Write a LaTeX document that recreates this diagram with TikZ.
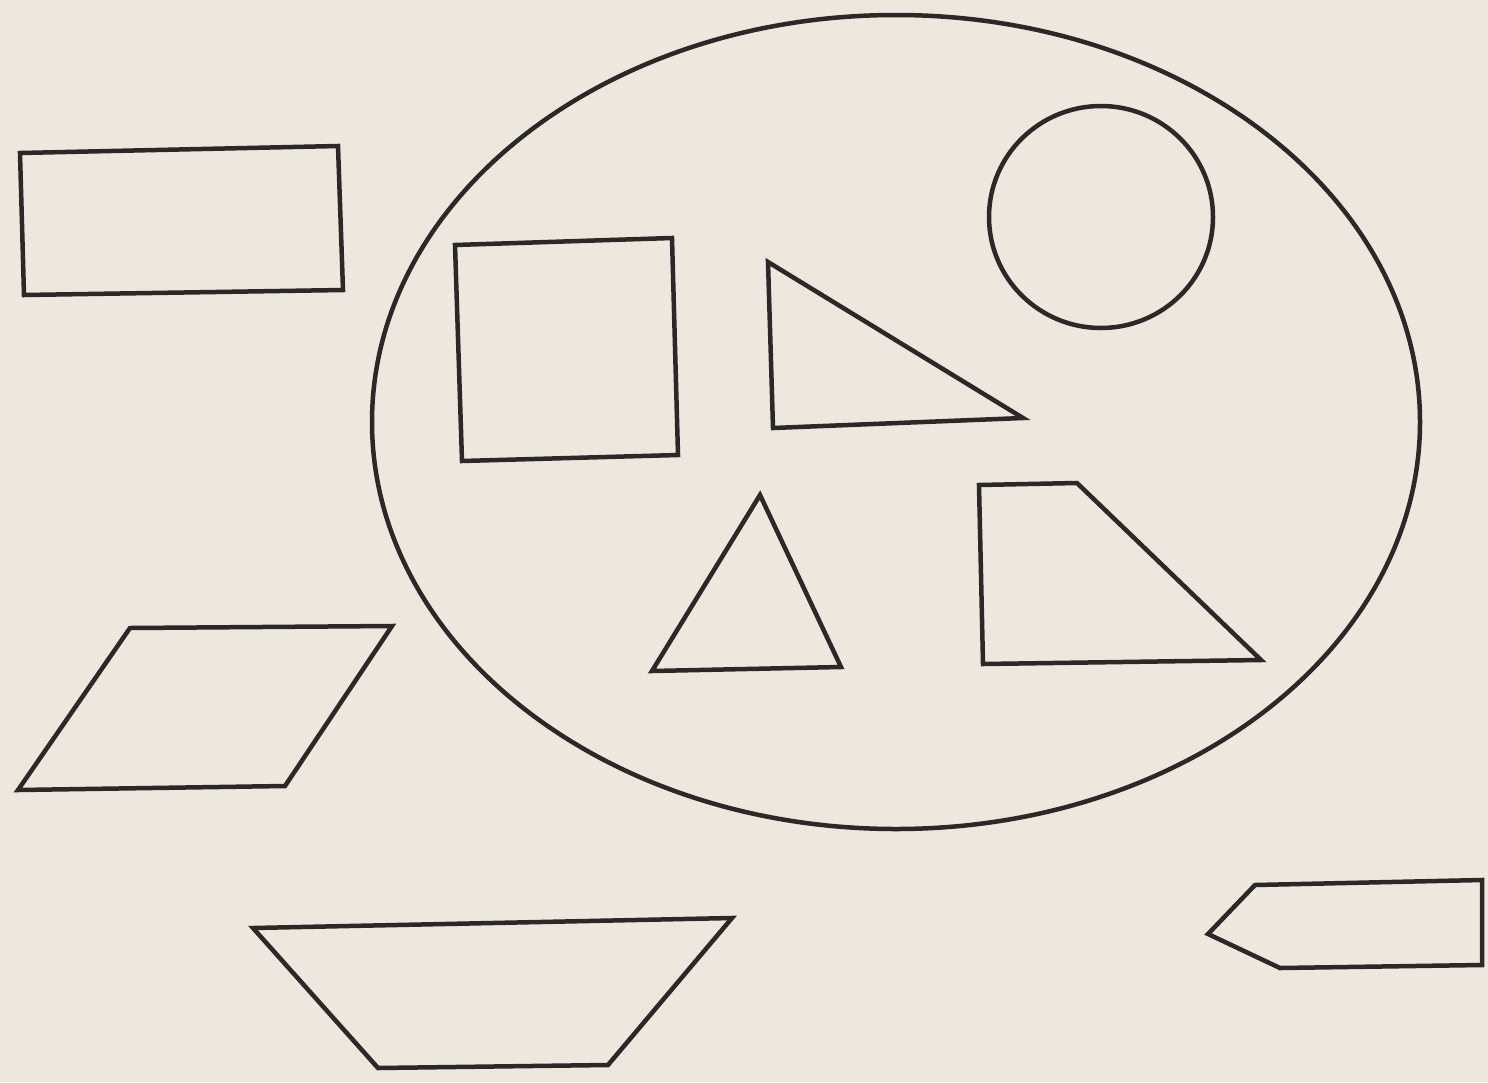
\documentclass[tikz,border=0pt]{standalone}
\begin{document}
\begin{tikzpicture}[x=1pt,y=-1pt]
\definecolor{paper}{HTML}{EDE7DE}
\definecolor{ink}{HTML}{2B2827}
\tikzset{shape line/.style={draw=ink,line width=4.5pt,line join=miter}}
\fill[paper] (0,0) rectangle (1488,1082);
\useasboundingbox (0,0) rectangle (1488,1082);
% big ellipse
\draw[shape line] (896,422) ellipse [x radius=524, y radius=407];
% top-left rectangle
\draw[shape line] (20,153) -- (338,146) -- (343,290) -- (24,295) -- cycle;
% square
\draw[shape line] (455,245) -- (672,238) -- (678,455) -- (462,461) -- cycle;
% right triangle
\draw[shape line] (768,262) -- (1023,418) -- (773,428) -- cycle;
% circle
\draw[shape line] (1101,217) ellipse [x radius=112, y radius=111];
% triangle
\draw[shape line] (760,495) -- (841,667) -- (652,671) -- cycle;
% right trapezoid
\draw[shape line] (979,485) -- (1077,483) -- (1261,660) -- (983,664) -- cycle;
% parallelogram
\draw[shape line] (130,628) -- (392,626) -- (285,786) -- (18,790) -- cycle;
% bottom trapezoid
\draw[shape line] (253,928) -- (732,918) -- (608,1065) -- (378,1068) -- cycle;
% pencil pentagon
\draw[shape line] (1208,934) -- (1255,885) -- (1482,880) -- (1482,965) -- (1280,968) -- cycle;
\end{tikzpicture}
\end{document}
